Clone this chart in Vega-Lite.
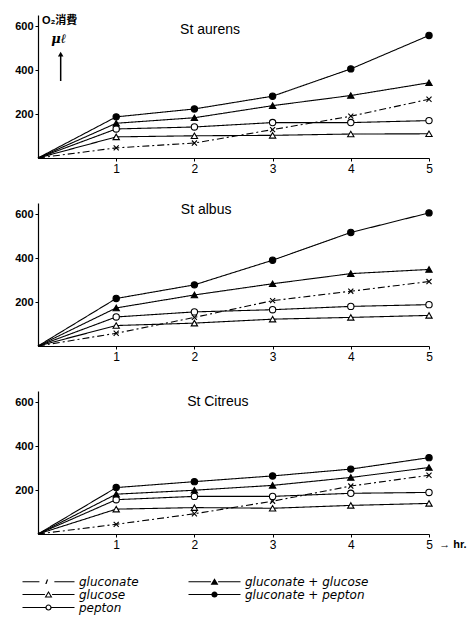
{
"$schema": "https://vega.github.io/schema/vega-lite/v6.json",
"background": "white",
"padding": {"left": 14, "top": 15, "right": 5, "bottom": 5},
"spacing": 45,
"bounds": "flush",
"datasets": {
"obs": [
{"strain":"St aurens","series":"gluconate","hr":0,"o2":0},{"strain":"St aurens","series":"gluconate","hr":1,"o2":46},{"strain":"St aurens","series":"gluconate","hr":2,"o2":68},{"strain":"St aurens","series":"gluconate","hr":3,"o2":129},{"strain":"St aurens","series":"gluconate","hr":4,"o2":190},{"strain":"St aurens","series":"gluconate","hr":5,"o2":267},
{"strain":"St aurens","series":"glucose","hr":0,"o2":0},{"strain":"St aurens","series":"glucose","hr":1,"o2":96},{"strain":"St aurens","series":"glucose","hr":2,"o2":101},{"strain":"St aurens","series":"glucose","hr":3,"o2":103},{"strain":"St aurens","series":"glucose","hr":4,"o2":109},{"strain":"St aurens","series":"glucose","hr":5,"o2":110},
{"strain":"St aurens","series":"pepton","hr":0,"o2":0},{"strain":"St aurens","series":"pepton","hr":1,"o2":132},{"strain":"St aurens","series":"pepton","hr":2,"o2":141},{"strain":"St aurens","series":"pepton","hr":3,"o2":161},{"strain":"St aurens","series":"pepton","hr":4,"o2":161},{"strain":"St aurens","series":"pepton","hr":5,"o2":170},
{"strain":"St aurens","series":"gluconate + glucose","hr":0,"o2":0},{"strain":"St aurens","series":"gluconate + glucose","hr":1,"o2":158},{"strain":"St aurens","series":"gluconate + glucose","hr":2,"o2":183},{"strain":"St aurens","series":"gluconate + glucose","hr":3,"o2":238},{"strain":"St aurens","series":"gluconate + glucose","hr":4,"o2":284},{"strain":"St aurens","series":"gluconate + glucose","hr":5,"o2":342},
{"strain":"St aurens","series":"gluconate + pepton","hr":0,"o2":0},{"strain":"St aurens","series":"gluconate + pepton","hr":1,"o2":187},{"strain":"St aurens","series":"gluconate + pepton","hr":2,"o2":223},{"strain":"St aurens","series":"gluconate + pepton","hr":3,"o2":281},{"strain":"St aurens","series":"gluconate + pepton","hr":4,"o2":405},{"strain":"St aurens","series":"gluconate + pepton","hr":5,"o2":557},
{"strain":"St albus","series":"gluconate","hr":0,"o2":0},{"strain":"St albus","series":"gluconate","hr":1,"o2":58},{"strain":"St albus","series":"gluconate","hr":2,"o2":130},{"strain":"St albus","series":"gluconate","hr":3,"o2":206},{"strain":"St albus","series":"gluconate","hr":4,"o2":249},{"strain":"St albus","series":"gluconate","hr":5,"o2":293},
{"strain":"St albus","series":"glucose","hr":0,"o2":0},{"strain":"St albus","series":"glucose","hr":1,"o2":93},{"strain":"St albus","series":"glucose","hr":2,"o2":104},{"strain":"St albus","series":"glucose","hr":3,"o2":122},{"strain":"St albus","series":"glucose","hr":4,"o2":130},{"strain":"St albus","series":"glucose","hr":5,"o2":139},
{"strain":"St albus","series":"pepton","hr":0,"o2":0},{"strain":"St albus","series":"pepton","hr":1,"o2":132},{"strain":"St albus","series":"pepton","hr":2,"o2":155},{"strain":"St albus","series":"pepton","hr":3,"o2":165},{"strain":"St albus","series":"pepton","hr":4,"o2":180},{"strain":"St albus","series":"pepton","hr":5,"o2":188},
{"strain":"St albus","series":"gluconate + glucose","hr":0,"o2":0},{"strain":"St albus","series":"gluconate + glucose","hr":1,"o2":173},{"strain":"St albus","series":"gluconate + glucose","hr":2,"o2":232},{"strain":"St albus","series":"gluconate + glucose","hr":3,"o2":283},{"strain":"St albus","series":"gluconate + glucose","hr":4,"o2":329},{"strain":"St albus","series":"gluconate + glucose","hr":5,"o2":348},
{"strain":"St albus","series":"gluconate + pepton","hr":0,"o2":0},{"strain":"St albus","series":"gluconate + pepton","hr":1,"o2":216},{"strain":"St albus","series":"gluconate + pepton","hr":2,"o2":278},{"strain":"St albus","series":"gluconate + pepton","hr":3,"o2":390},{"strain":"St albus","series":"gluconate + pepton","hr":4,"o2":516},{"strain":"St albus","series":"gluconate + pepton","hr":5,"o2":605},
{"strain":"St Citreus","series":"gluconate","hr":0,"o2":0},{"strain":"St Citreus","series":"gluconate","hr":1,"o2":44},{"strain":"St Citreus","series":"gluconate","hr":2,"o2":92},{"strain":"St Citreus","series":"gluconate","hr":3,"o2":149},{"strain":"St Citreus","series":"gluconate","hr":4,"o2":218},{"strain":"St Citreus","series":"gluconate","hr":5,"o2":267},
{"strain":"St Citreus","series":"glucose","hr":0,"o2":0},{"strain":"St Citreus","series":"glucose","hr":1,"o2":113},{"strain":"St Citreus","series":"glucose","hr":2,"o2":120},{"strain":"St Citreus","series":"glucose","hr":3,"o2":117},{"strain":"St Citreus","series":"glucose","hr":4,"o2":130},{"strain":"St Citreus","series":"glucose","hr":5,"o2":139},
{"strain":"St Citreus","series":"pepton","hr":0,"o2":0},{"strain":"St Citreus","series":"pepton","hr":1,"o2":156},{"strain":"St Citreus","series":"pepton","hr":2,"o2":171},{"strain":"St Citreus","series":"pepton","hr":3,"o2":171},{"strain":"St Citreus","series":"pepton","hr":4,"o2":185},{"strain":"St Citreus","series":"pepton","hr":5,"o2":189},
{"strain":"St Citreus","series":"gluconate + glucose","hr":0,"o2":0},{"strain":"St Citreus","series":"gluconate + glucose","hr":1,"o2":181},{"strain":"St Citreus","series":"gluconate + glucose","hr":2,"o2":199},{"strain":"St Citreus","series":"gluconate + glucose","hr":3,"o2":221},{"strain":"St Citreus","series":"gluconate + glucose","hr":4,"o2":257},{"strain":"St Citreus","series":"gluconate + glucose","hr":5,"o2":302},
{"strain":"St Citreus","series":"gluconate + pepton","hr":0,"o2":0},{"strain":"St Citreus","series":"gluconate + pepton","hr":1,"o2":211},{"strain":"St Citreus","series":"gluconate + pepton","hr":2,"o2":238},{"strain":"St Citreus","series":"gluconate + pepton","hr":3,"o2":264},{"strain":"St Citreus","series":"gluconate + pepton","hr":4,"o2":295},{"strain":"St Citreus","series":"gluconate + pepton","hr":5,"o2":347}
]
},
"vconcat": [
{
"width": 391, "height": 143,
"resolve": {"scale": {"shape": "independent", "fill": "independent"}},
"layer": [
{"data": {"name": "obs"}, "transform": [{"filter": "datum.strain === 'St aurens'"}],
 "mark": {"type": "line", "color": "black", "strokeWidth": 1.1},
 "encoding": {
  "x": {"field": "hr", "type": "quantitative", "scale": {"domain": [0, 5]}, "axis": {"values": [1,2,3,4,5], "format": "d", "labelFlush": false, "title": null}},
  "y": {"field": "o2", "type": "quantitative", "scale": {"domain": [0, 620]}, "axis": {"values": [200,400,600], "title": null}},
  "detail": {"field": "series"},
  "strokeDash": {"field": "series", "type": "nominal", "scale": {"domain": ["gluconate","glucose","pepton","gluconate + glucose","gluconate + pepton"], "range": [[7,3,2,3],[1,0],[1,0],[1,0],[1,0]]}, "legend": null}
 }},
{"data": {"name": "obs"}, "transform": [{"filter": "datum.strain === 'St aurens' && datum.hr > 0"}],
 "mark": {"type": "point", "filled": true, "stroke": "black", "strokeWidth": 1.1, "opacity": 1, "size": 40},
 "encoding": {
  "x": {"field": "hr", "type": "quantitative"},
  "y": {"field": "o2", "type": "quantitative"},
  "shape": {"field": "series", "type": "nominal", "scale": {"domain": ["gluconate","glucose","pepton","gluconate + glucose","gluconate + pepton"], "range": ["M-0.8,-0.8L0.8,0.8M-0.8,0.8L0.8,-0.8","triangle-up","circle","triangle-up","circle"]}, "legend": null},
  "fill": {"field": "series", "type": "nominal", "scale": {"domain": ["gluconate","glucose","pepton","gluconate + glucose","gluconate + pepton"], "range": ["black","white","white","black","black"]}, "legend": null}
 }},
{"data": {"values": [{"t": "St aurens"}]}, "mark": {"type": "text", "font": "Liberation Sans", "fontSize": 14, "color": "black"},
 "encoding": {"x": {"datum": 2.2}, "y": {"datum": 582}, "text": {"field": "t"}}},
{"data": {"values": [{"t": "O₂消費"}]}, "mark": {"type": "text", "font": "Liberation Sans, Noto Sans CJK JP", "fontSize": 11, "fontWeight": "bold", "align": "left", "color": "black"},
 "encoding": {"x": {"datum": 0.05}, "y": {"datum": 622}, "text": {"field": "t"}}},
{"data": {"values": [{"t": "μℓ"}]}, "mark": {"type": "text", "font": "DejaVu Serif", "fontSize": 13, "fontStyle": "italic", "fontWeight": "bold", "align": "left", "color": "black"},
 "encoding": {"x": {"datum": 0.17}, "y": {"datum": 543}, "text": {"field": "t"}}},
{"data": {"values": [{}]}, "mark": {"type": "rule", "color": "black", "strokeWidth": 1.5},
 "encoding": {"x": {"datum": 0.29}, "y": {"datum": 350}, "y2": {"datum": 470}}},
{"data": {"values": [{}]}, "mark": {"type": "point", "shape": "triangle-up", "filled": true, "color": "black", "size": 30, "opacity": 1},
 "encoding": {"x": {"datum": 0.29}, "y": {"datum": 472}}}
]
},
{
"width": 391, "height": 143,
"resolve": {"scale": {"shape": "independent", "fill": "independent"}},
"layer": [
{"data": {"name": "obs"}, "transform": [{"filter": "datum.strain === 'St albus'"}],
 "mark": {"type": "line", "color": "black", "strokeWidth": 1.1},
 "encoding": {
  "x": {"field": "hr", "type": "quantitative", "scale": {"domain": [0, 5]}, "axis": {"values": [1,2,3,4,5], "format": "d", "labelFlush": false, "title": null}},
  "y": {"field": "o2", "type": "quantitative", "scale": {"domain": [0, 620]}, "axis": {"values": [200,400,600], "title": null}},
  "detail": {"field": "series"},
  "strokeDash": {"field": "series", "type": "nominal", "scale": {"domain": ["gluconate","glucose","pepton","gluconate + glucose","gluconate + pepton"], "range": [[7,3,2,3],[1,0],[1,0],[1,0],[1,0]]}, "legend": null}
 }},
{"data": {"name": "obs"}, "transform": [{"filter": "datum.strain === 'St albus' && datum.hr > 0"}],
 "mark": {"type": "point", "filled": true, "stroke": "black", "strokeWidth": 1.1, "opacity": 1, "size": 40},
 "encoding": {
  "x": {"field": "hr", "type": "quantitative"},
  "y": {"field": "o2", "type": "quantitative"},
  "shape": {"field": "series", "type": "nominal", "scale": {"domain": ["gluconate","glucose","pepton","gluconate + glucose","gluconate + pepton"], "range": ["M-0.8,-0.8L0.8,0.8M-0.8,0.8L0.8,-0.8","triangle-up","circle","triangle-up","circle"]}, "legend": null},
  "fill": {"field": "series", "type": "nominal", "scale": {"domain": ["gluconate","glucose","pepton","gluconate + glucose","gluconate + pepton"], "range": ["black","white","white","black","black"]}, "legend": null}
 }},
{"data": {"values": [{"t": "St albus"}]}, "mark": {"type": "text", "font": "Liberation Sans", "fontSize": 14, "color": "black"},
 "encoding": {"x": {"datum": 2.15}, "y": {"datum": 617}, "text": {"field": "t"}}}
]
},
{
"width": 391, "height": 143,
"resolve": {"scale": {"shape": "independent", "fill": "independent"}},
"layer": [
{"data": {"name": "obs"}, "transform": [{"filter": "datum.strain === 'St Citreus'"}],
 "mark": {"type": "line", "color": "black", "strokeWidth": 1.1},
 "encoding": {
  "x": {"field": "hr", "type": "quantitative", "scale": {"domain": [0, 5]}, "axis": {"values": [1,2,3,4,5], "format": "d", "labelFlush": false, "title": null}},
  "y": {"field": "o2", "type": "quantitative", "scale": {"domain": [0, 620]}, "axis": {"values": [200,400,600], "title": null}},
  "detail": {"field": "series"},
  "strokeDash": {"field": "series", "type": "nominal", "scale": {"domain": ["gluconate","glucose","pepton","gluconate + glucose","gluconate + pepton"], "range": [[7,3,2,3],[1,0],[1,0],[1,0],[1,0]]}, "legend": null}
 }},
{"data": {"name": "obs"}, "transform": [{"filter": "datum.strain === 'St Citreus' && datum.hr > 0"}],
 "mark": {"type": "point", "filled": true, "stroke": "black", "strokeWidth": 1.1, "opacity": 1, "size": 40},
 "encoding": {
  "x": {"field": "hr", "type": "quantitative"},
  "y": {"field": "o2", "type": "quantitative"},
  "shape": {"field": "series", "type": "nominal", "scale": {"domain": ["gluconate","glucose","pepton","gluconate + glucose","gluconate + pepton"], "range": ["M-0.8,-0.8L0.8,0.8M-0.8,0.8L0.8,-0.8","triangle-up","circle","triangle-up","circle"]}, "legend": null},
  "fill": {"field": "series", "type": "nominal", "scale": {"domain": ["gluconate","glucose","pepton","gluconate + glucose","gluconate + pepton"], "range": ["black","white","white","black","black"]}, "legend": null}
 }},
{"data": {"name": "obs"}, "transform": [{"filter": "datum.hr < 0"}],
 "mark": {"type": "point", "filled": true, "opacity": 1},
 "encoding": {
  "x": {"field": "hr", "type": "quantitative"},
  "y": {"field": "o2", "type": "quantitative"},
  "shape": {"field": "series", "type": "nominal", "title": null,
   "scale": {"domain": ["gluconate","gluconate + glucose","glucose","gluconate + pepton","pepton"],
    "range": ["M-4,-0.08H-1.4V0.08H-4Z M-0.5,0.35L-0.3,0.35L-0.05,-0.35L-0.25,-0.35Z M0.9,-0.08H4V0.08H0.9Z",
              "M-4,-0.09H-0.55V0.09H-4Z M0.55,-0.09H4V0.09H0.55Z M-0.6,0.45L0,-0.55L0.6,0.45Z",
              "M-4,-0.09H-0.55V0.09H-4Z M0.55,-0.09H4V0.09H0.55Z M-0.6,0.45L0,-0.55L0.6,0.45Z M-0.32,0.29L0.32,0.29L0,-0.24Z",
              "M-4,-0.09H-0.45V0.09H-4Z M0.45,-0.09H4V0.09H0.45Z M-0.48,0A0.48,0.48,0,1,1,0.48,0A0.48,0.48,0,1,1,-0.48,0Z",
              "M-4,-0.09H-0.45V0.09H-4Z M0.45,-0.09H4V0.09H0.45Z M-0.48,0A0.48,0.48,0,1,1,0.48,0A0.48,0.48,0,1,1,-0.48,0Z M-0.29,0A0.29,0.29,0,1,0,0.29,0A0.29,0.29,0,1,0,-0.29,0Z"]},
   "legend": {"orient": "none", "legendX": 4, "legendY": 184, "columns": 2, "direction": "horizontal", "symbolSize": 169, "labelOffset": 24, "symbolStrokeWidth": 0, "labelFont": "DejaVu Sans", "labelFontSize": 12, "labelFontStyle": "italic", "labelColor": "black", "rowPadding": -1, "columnPadding": 49, "labelLimit": 300}},
  "fill": {"field": "series", "type": "nominal", "title": null,
   "scale": {"domain": ["gluconate","gluconate + glucose","glucose","gluconate + pepton","pepton"], "range": ["black","black","black","black","black"]},
   "legend": {"orient": "none", "legendX": 4, "legendY": 184, "columns": 2, "direction": "horizontal", "symbolSize": 169, "labelOffset": 24, "symbolStrokeWidth": 0, "labelFont": "DejaVu Sans", "labelFontSize": 12, "labelFontStyle": "italic", "labelColor": "black", "rowPadding": -1, "columnPadding": 49, "labelLimit": 300}}
 }},
{"data": {"values": [{"t": "St Citreus"}]}, "mark": {"type": "text", "font": "Liberation Sans", "fontSize": 14, "color": "black"},
 "encoding": {"x": {"datum": 2.3}, "y": {"datum": 600}, "text": {"field": "t"}}},
{"data": {"values": [{"t": "→ hr."}]}, "mark": {"type": "text", "font": "Liberation Sans", "fontSize": 11, "fontWeight": "bold", "align": "left", "color": "black"},
 "encoding": {"x": {"datum": 5.13}, "y": {"datum": -50}, "text": {"field": "t"}}}
]
}
],
"config": {
 "view": {"stroke": null},
 "axis": {"grid": false, "domainColor": "black", "domainWidth": 1.2, "tickColor": "black", "tickSize": 3, "labelColor": "black", "labelFont": "Liberation Sans", "labelFontSize": 12, "labelPadding": 2},
 "axisY": {"labelFontWeight": "bold", "labelFontSize": 11}
}
}
